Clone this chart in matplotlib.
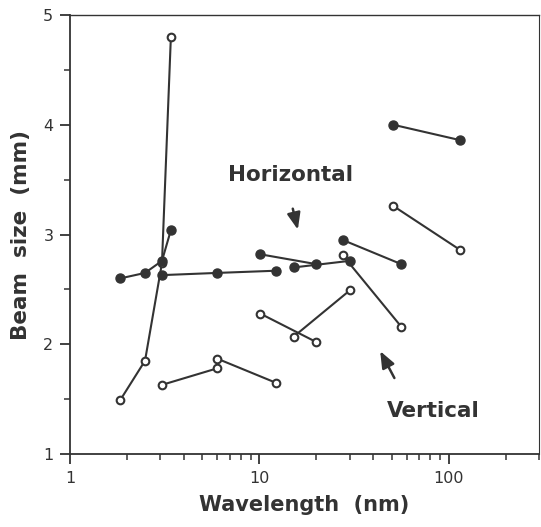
import matplotlib
matplotlib.use("Agg")
import matplotlib.pyplot as plt
from matplotlib.ticker import LogLocator, NullFormatter, FixedLocator, FixedFormatter

# horizontal beam size (filled circles), one list per connected segment
h_wl = [[1.84, 2.49, 3.06, 3.41],
        [3.06, 5.97, 12.2],
        [10.1, 20.0],
        [15.2, 30.0],
        [27.6, 56.2],
        [51.0, 114.8]]
h_size = [[2.60, 2.65, 2.76, 3.04],
          [2.63, 2.65, 2.67],
          [2.82, 2.73],
          [2.70, 2.76],
          [2.95, 2.73],
          [4.00, 3.86]]

# vertical beam size (open circles)
v_wl = [[1.84, 2.49, 3.06, 3.41],
        [3.06, 5.97],
        [5.97, 12.2],
        [10.1, 20.0],
        [15.2, 30.0],
        [27.6, 56.2],
        [51.0, 114.8]]
v_size = [[1.49, 1.85, 2.74, 4.80],
          [1.63, 1.78],
          [1.87, 1.65],
          [2.28, 2.02],
          [2.07, 2.49],
          [2.81, 2.16],
          [3.26, 2.86]]

ink = '#333333'

fig = plt.figure(figsize=(5.41, 5.27), dpi=100)
ax = fig.add_axes([0.1294, 0.1385, 0.9963 - 0.1294, 0.9715 - 0.1385])

# open circles first so filled ones sit on top where they overlap
for xs, ys in zip(v_wl, v_size):
    ax.plot(xs, ys, '-', color=ink, lw=1.5, marker='o', ms=5.5,
            mfc='white', mec=ink, mew=1.5, zorder=2)
for xs, ys in zip(h_wl, h_size):
    ax.plot(xs, ys, '-', color=ink, lw=1.5, marker='o', ms=6.5,
            mfc=ink, mec=ink, zorder=3)

ax.set_xscale('log')
ax.set_xlim(1, 300)
ax.set_ylim(1, 5)

ax.xaxis.set_major_locator(FixedLocator([1, 10, 100]))
ax.xaxis.set_major_formatter(FixedFormatter(['1', '10', '100']))
ax.xaxis.set_minor_locator(LogLocator(base=10, subs=range(2, 10)))
ax.xaxis.set_minor_formatter(NullFormatter())
ax.set_yticks([1, 2, 3, 4, 5])
ax.set_yticks([1.5, 2.5, 3.5, 4.5], minor=True)

for s in ax.spines.values():
    s.set_color(ink)
    s.set_linewidth(1.3)
ax.spines['top'].set_linewidth(1.0)
ax.spines['right'].set_linewidth(0.8)

ax.tick_params(which='major', direction='out', length=7, width=1.3,
               color=ink, labelsize=11.5, labelcolor=ink, pad=5)
ax.tick_params(which='minor', direction='out', length=4, width=1.1, color=ink)
ax.tick_params(top=False, right=False, which='both')

ax.set_xlabel('Wavelength  (nm)', fontsize=15, fontweight='bold', color=ink, labelpad=7)
ax.set_ylabel('Beam  size  (mm)', fontsize=15.5, fontweight='bold', color=ink, labelpad=9)

ax.text(14.6, 3.54, 'Horizontal', fontsize=15.5, fontweight='bold', color=ink,
        ha='center', va='center')
ax.text(83.3, 1.39, 'Vertical', fontsize=15.5, fontweight='bold', color=ink,
        ha='center', va='center')

arrow = dict(arrowstyle='-|>,head_length=1.0,head_width=0.4', color=ink, lw=1.8)
ax.annotate('', xy=(16.1, 3.02), xytext=(14.9, 3.26), arrowprops=arrow)
ax.annotate('', xy=(42.8, 1.96), xytext=(52.5, 1.67), arrowprops=arrow)

fig.savefig('out.png', dpi=100)
